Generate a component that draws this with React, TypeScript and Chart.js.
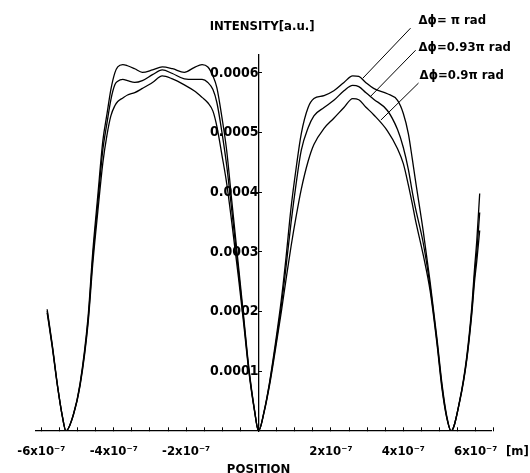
import React, { useEffect, useRef } from 'react';
import { Chart, registerables } from 'chart.js';

Chart.register(...registerables);

// Position along the sample (metres)
const positions = [
  -5.84e-7, -5.70e-7, -5.55e-7, -5.42e-7, -5.32e-7, -5.12e-7, -4.93e-7, -4.71e-7, -4.58e-7, -4.44e-7,
  -4.30e-7, -4.19e-7, -4.08e-7, -3.97e-7, -3.89e-7, -3.75e-7, -3.62e-7, -3.42e-7, -3.21e-7, -2.93e-7,
  -2.66e-7, -2.38e-7, -2.05e-7, -1.78e-7, -1.56e-7, -1.40e-7, -1.26e-7, -1.15e-7, -1.01e-7, -0.88e-7,
  -0.74e-7, -0.55e-7, -0.41e-7, -0.27e-7, -0.11e-7, 0,
  0.16e-7, 0.30e-7, 0.45e-7, 0.63e-7, 0.75e-7, 0.90e-7, 1.04e-7, 1.18e-7, 1.37e-7, 1.53e-7,
  1.81e-7, 2.08e-7, 2.36e-7, 2.60e-7, 2.77e-7, 2.96e-7, 3.18e-7, 3.56e-7, 3.84e-7, 4.00e-7,
  4.14e-7, 4.25e-7, 4.33e-7, 4.55e-7, 4.74e-7, 4.93e-7, 5.07e-7, 5.20e-7, 5.32e-7, 5.56e-7,
  5.75e-7, 5.89e-7, 5.97e-7, 6.03e-7, 6.11e-7,
];

// Intensity for Δϕ = π rad
const intensityPi = [
  2.04e-4, 1.45e-4, 0.75e-4, 0.25e-4, 0, 0.27e-4, 0.80e-4, 1.91e-4, 3.00e-4, 3.95e-4,
  4.87e-4, 5.30e-4, 5.72e-4, 6.00e-4, 6.10e-4, 6.14e-4, 6.12e-4, 6.07e-4, 6.01e-4, 6.05e-4,
  6.10e-4, 6.07e-4, 6.01e-4, 6.09e-4, 6.14e-4, 6.10e-4, 5.95e-4, 5.75e-4, 5.25e-4, 4.70e-4,
  3.86e-4, 2.74e-4, 1.91e-4, 1.07e-4, 0.35e-4, 0,
  0.35e-4, 0.80e-4, 1.40e-4, 2.20e-4, 2.85e-4, 3.75e-4, 4.41e-4, 4.98e-4, 5.42e-4, 5.57e-4,
  5.62e-4, 5.70e-4, 5.84e-4, 5.95e-4, 5.94e-4, 5.84e-4, 5.74e-4, 5.65e-4, 5.54e-4, 5.32e-4,
  4.98e-4, 4.55e-4, 4.22e-4, 3.35e-4, 2.50e-4, 1.55e-4, 0.78e-4, 0.25e-4, 0, 0.52e-4,
  1.24e-4, 2.07e-4, 2.74e-4, 3.19e-4, 3.98e-4,
];

// Intensity for Δϕ = 0.93π rad
const intensity093 = [
  2.01e-4, 1.43e-4, 0.74e-4, 0.25e-4, 0, 0.26e-4, 0.78e-4, 1.85e-4, 2.90e-4, 3.82e-4,
  4.72e-4, 5.15e-4, 5.55e-4, 5.80e-4, 5.86e-4, 5.89e-4, 5.87e-4, 5.84e-4, 5.87e-4, 5.97e-4,
  6.05e-4, 5.99e-4, 5.90e-4, 5.89e-4, 5.89e-4, 5.84e-4, 5.72e-4, 5.50e-4, 5.00e-4, 4.45e-4,
  3.70e-4, 2.65e-4, 1.86e-4, 1.04e-4, 0.34e-4, 0,
  0.34e-4, 0.78e-4, 1.35e-4, 2.10e-4, 2.70e-4, 3.50e-4, 4.15e-4, 4.70e-4, 5.08e-4, 5.28e-4,
  5.42e-4, 5.54e-4, 5.70e-4, 5.79e-4, 5.77e-4, 5.67e-4, 5.56e-4, 5.37e-4, 5.05e-4, 4.75e-4,
  4.38e-4, 4.00e-4, 3.75e-4, 3.15e-4, 2.42e-4, 1.50e-4, 0.74e-4, 0.23e-4, 0, 0.51e-4,
  1.20e-4, 2.00e-4, 2.62e-4, 3.00e-4, 3.66e-4,
];

// Intensity for Δϕ = 0.9π rad
const intensity09 = [
  1.98e-4, 1.41e-4, 0.73e-4, 0.24e-4, 0, 0.26e-4, 0.76e-4, 1.80e-4, 2.80e-4, 3.68e-4,
  4.50e-4, 4.95e-4, 5.28e-4, 5.45e-4, 5.52e-4, 5.58e-4, 5.63e-4, 5.67e-4, 5.74e-4, 5.84e-4,
  5.95e-4, 5.90e-4, 5.80e-4, 5.70e-4, 5.59e-4, 5.50e-4, 5.36e-4, 5.10e-4, 4.62e-4, 4.15e-4,
  3.50e-4, 2.55e-4, 1.80e-4, 1.01e-4, 0.33e-4, 0,
  0.33e-4, 0.75e-4, 1.30e-4, 2.00e-4, 2.50e-4, 3.10e-4, 3.60e-4, 4.05e-4, 4.52e-4, 4.80e-4,
  5.07e-4, 5.24e-4, 5.42e-4, 5.57e-4, 5.55e-4, 5.43e-4, 5.30e-4, 5.03e-4, 4.73e-4, 4.48e-4,
  4.12e-4, 3.80e-4, 3.55e-4, 2.95e-4, 2.35e-4, 1.46e-4, 0.70e-4, 0.22e-4, 0, 0.50e-4,
  1.18e-4, 1.95e-4, 2.52e-4, 2.85e-4, 3.36e-4,
];

const seriesLabels = ['Δϕ= π rad', 'Δϕ=0.93π rad', 'Δϕ=0.9π rad'];

// label annotation anchors (data coordinates)
const labelX = [4.42e-7, 4.42e-7, 4.45e-7];
const labelY = [6.87e-4, 6.42e-4, 5.96e-4];
const leaderStartX = [4.20e-7, 4.34e-7, 4.42e-7];
const leaderStartY = [6.75e-4, 6.38e-4, 5.83e-4];
const leaderEndX = [2.88e-7, 3.10e-7, 3.38e-7];
const leaderEndY = [5.91e-4, 5.61e-4, 5.21e-4];

const yTickValues = [0.0001, 0.0002, 0.0003, 0.0004, 0.0005, 0.0006];
const yTickLabels = ['0.0001', '0.0002', '0.0003', '0.0004', '0.0005', '0.0006'];
const xLabelValues = [-6e-7, -4e-7, -2e-7, 2e-7, 4e-7, 6e-7];
const xTickLabels = ['-6x10⁻⁷', '-4x10⁻⁷', '-2x10⁻⁷', '2x10⁻⁷', '4x10⁻⁷', '6x10⁻⁷'];

const X_MIN = -6.15e-7;
const X_MAX = 6.45e-7;
const Y_MAX = 6.3e-4;

const NARROW = "'Liberation Sans Narrow', 'DejaVu Sans Condensed', 'Arial Narrow', sans-serif";

const annotationPlugin = {
  id: 'annotations',
  afterDraw(chart: any) {
    const { ctx, chartArea, scales } = chart;
    const xs = scales.x;
    const ys = scales.y;
    ctx.save();
    ctx.fillStyle = '#000';
    ctx.strokeStyle = '#000';
    ctx.lineWidth = 1;
    for (let i = 0; i < seriesLabels.length; i++) {
      ctx.beginPath();
      ctx.moveTo(xs.getPixelForValue(leaderStartX[i]), ys.getPixelForValue(leaderStartY[i]));
      ctx.lineTo(xs.getPixelForValue(leaderEndX[i]), ys.getPixelForValue(leaderEndY[i]));
      ctx.stroke();
      ctx.font = `bold 13px ${NARROW}`;
      ctx.textAlign = 'left';
      ctx.textBaseline = 'middle';
      ctx.fillText(seriesLabels[i], xs.getPixelForValue(labelX[i]), ys.getPixelForValue(labelY[i]));
    }
    const x0 = xs.getPixelForValue(0);
    const y0 = ys.getPixelForValue(0);
    ctx.font = `bold 13px ${NARROW}`;
    ctx.textAlign = 'right';
    ctx.textBaseline = 'bottom';
    ctx.fillText('INTENSITY[a.u.]', x0 + 56, chartArea.top - 22);
    ctx.textAlign = 'center';
    ctx.textBaseline = 'top';
    ctx.fillText('POSITION', x0, y0 + 32);
    ctx.textAlign = 'left';
    ctx.textBaseline = 'middle';
    ctx.fillText('[m]', chartArea.right + 14, y0 + 21);
    ctx.restore();
  },
};

export default function App() {
  const canvasRef = useRef<HTMLCanvasElement | null>(null);

  useEffect(() => {
    const canvas = canvasRef.current;
    if (!canvas) return;
    const mk = (vals: number[]) => positions.map((x, i) => ({ x, y: vals[i] }));
    const dsBase = {
      borderColor: '#000',
      backgroundColor: '#000',
      borderWidth: 1.3,
      pointRadius: 0,
      fill: false,
      cubicInterpolationMode: 'monotone' as const,
    };
    const chart = new Chart(canvas, {
      type: 'line',
      data: {
        datasets: [
          { ...dsBase, label: seriesLabels[0], data: mk(intensityPi) },
          { ...dsBase, label: seriesLabels[1], data: mk(intensity093) },
          { ...dsBase, label: seriesLabels[2], data: mk(intensity09) },
        ],
      },
      options: {
        animation: false,
        responsive: false,
        events: [],
        layout: { autoPadding: false, padding: { left: 26, right: 38, top: 55, bottom: 42 } },
        plugins: { legend: { display: false }, tooltip: { enabled: false }, title: { display: false } },
        scales: {
          x: {
            type: 'linear',
            min: X_MIN,
            max: X_MAX,
            position: { y: 0 } as any,
            afterBuildTicks: (scale: any) => {
              const t = [];
              for (let i = -12; i <= 13; i++) t.push({ value: i * 0.5e-7 });
              scale.ticks = t;
            },
            grid: { drawOnChartArea: false, drawTicks: true, tickLength: -4, color: '#000', lineWidth: 1 },
            border: { display: true, color: '#000', width: 1.3 },
            ticks: {
              autoSkip: false,
              maxRotation: 0,
              padding: 17,
              color: '#000',
              font: { family: NARROW, size: 13, weight: 'bold' },
              callback: (value: any) => {
                const k = xLabelValues.findIndex((v) => Math.abs(v - Number(value)) < 1e-9);
                return k >= 0 ? xTickLabels[k] : '';
              },
            },
          },
          y: {
            type: 'linear',
            min: 0,
            max: Y_MAX,
            position: { x: 0 } as any,
            afterBuildTicks: (scale: any) => {
              scale.ticks = yTickValues.map((v) => ({ value: v }));
            },
            grid: { drawOnChartArea: false, drawTicks: true, tickLength: -4, color: '#000', lineWidth: 1 },
            border: { display: true, color: '#000', width: 1.3 },
            ticks: {
              autoSkip: false,
              color: '#000',
              font: { family: NARROW, size: 14, weight: 'bold' },
              callback: (value: any) => {
                const k = yTickValues.findIndex((v) => Math.abs(v - Number(value)) < 1e-9);
                return k >= 0 ? yTickLabels[k] : '';
              },
            },
          },
        },
      },
      plugins: [annotationPlugin],
    });
    return () => chart.destroy();
  }, []);

  return (
    <div style={{ position: 'absolute', left: 0, top: 0, width: 530, height: 473, background: '#fff' }}>
      <canvas ref={canvasRef} width={530} height={473} style={{ display: 'block' }} />
    </div>
  );
}
